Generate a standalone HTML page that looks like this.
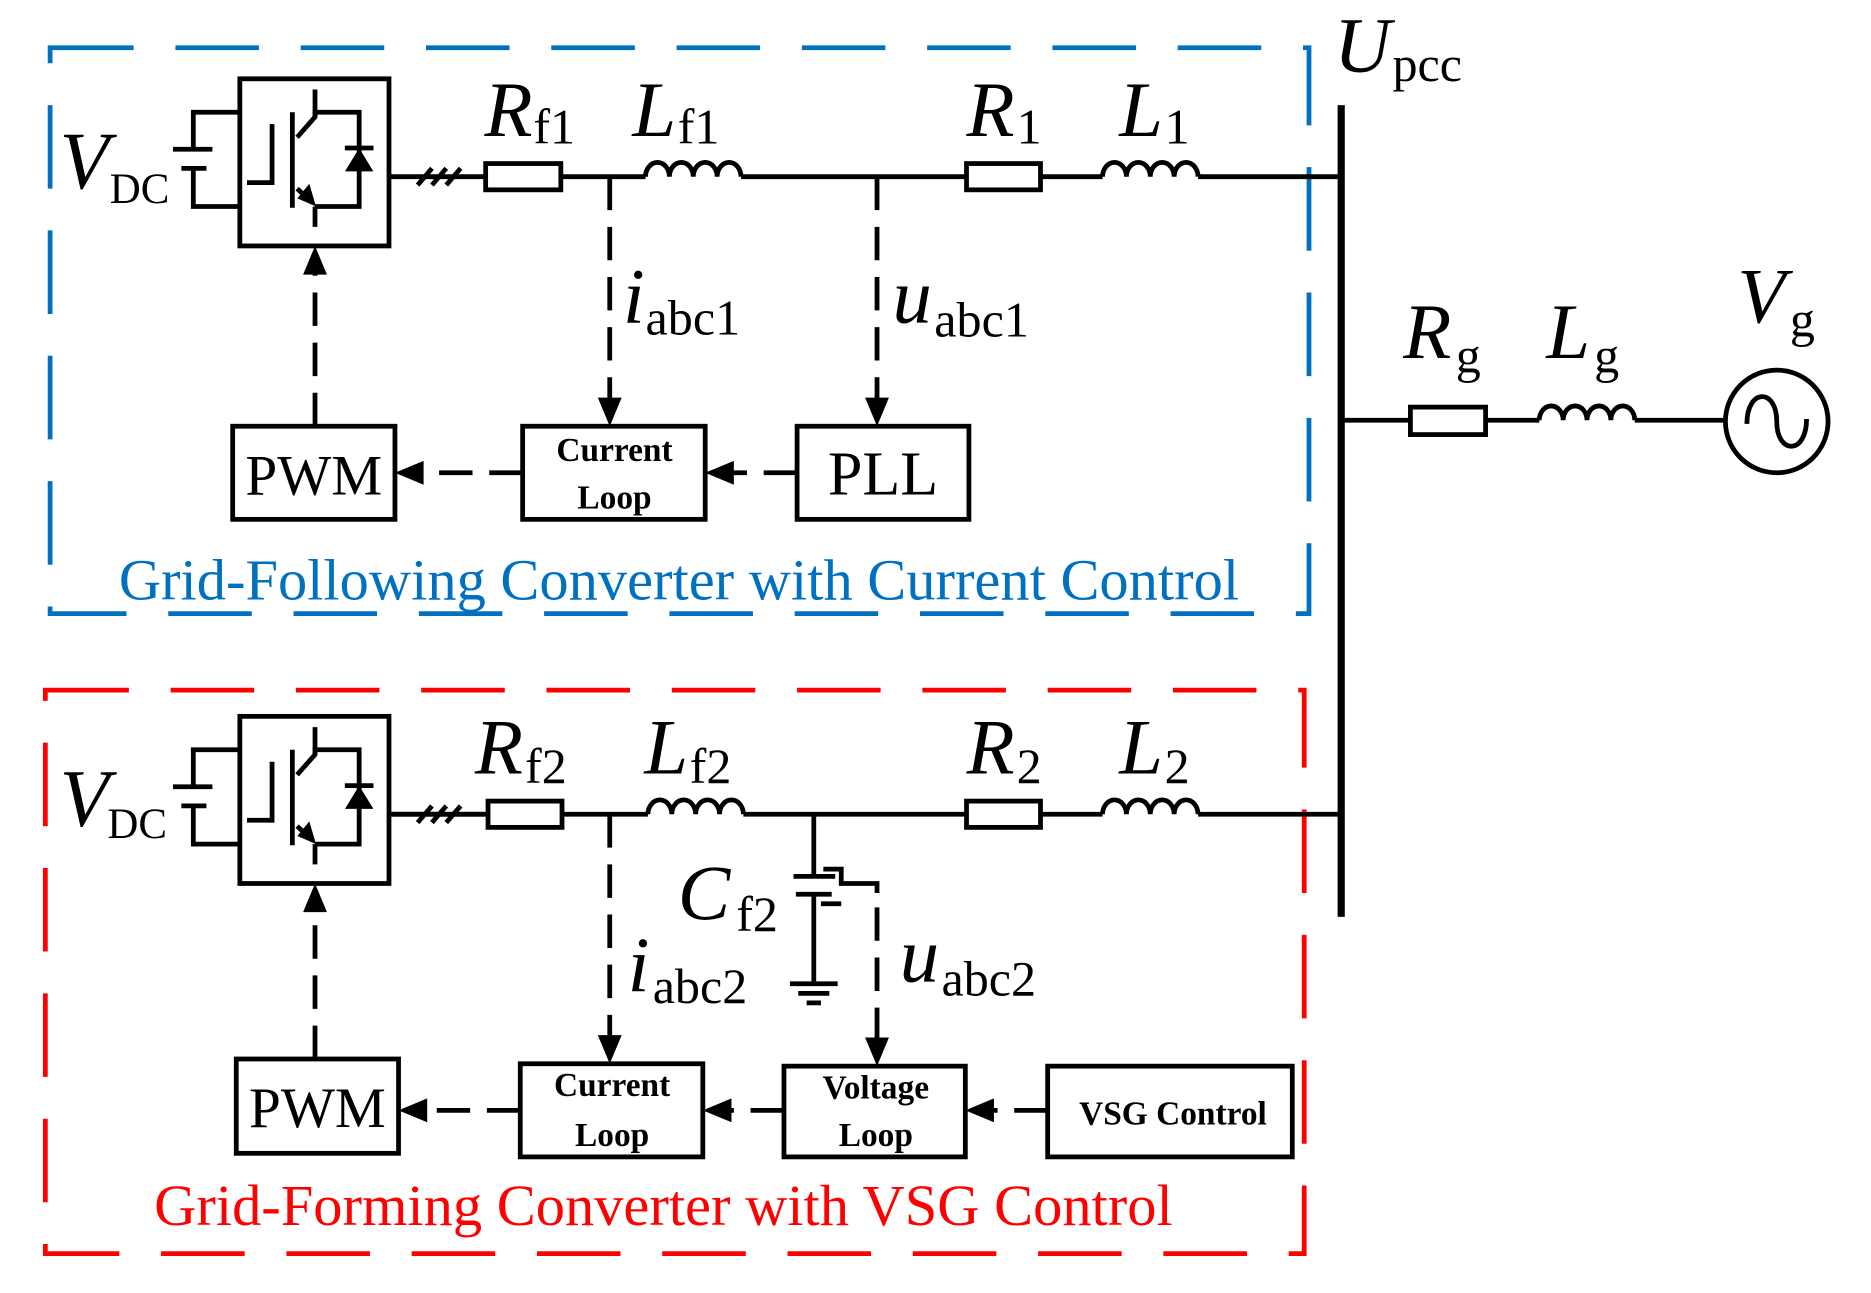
<!DOCTYPE html>
<html><head><meta charset="utf-8"><style>
html,body{margin:0;padding:0;background:#fff;}
svg{display:block;}
text{font-family:"Liberation Serif",serif;fill:#000;}
.it{font-style:italic;}
</style></head><body>
<svg width="1871" height="1293" viewBox="0 0 1568 1083" preserveAspectRatio="none" xmlns="http://www.w3.org/2000/svg">
<defs>
<g id="conv" stroke="#000" stroke-width="4" fill="none">
  <rect x="201" y="66" width="125" height="140"/>
  <polyline points="201,94 162,94 162,125"/>
  <line x1="145" y1="125" x2="178" y2="125"/>
  <line x1="152" y1="141" x2="173" y2="141"/>
  <polyline points="162,141 162,173 201,173"/>
  <polyline points="228,104 228,153 207,153"/>
  <line x1="245" y1="94" x2="245" y2="174"/>
  <polyline points="249,115 264,98 264,75"/>
  <polyline points="264,98 264,94 301,94 301,173 264,173"/>
  <line x1="249" y1="158" x2="262" y2="170"/>
  <line x1="264" y1="173" x2="264" y2="190"/>
  <line x1="289" y1="124" x2="313" y2="124"/>
  <polygon points="301,125 290,143 312,143" fill="#000" stroke-width="1"/>
  <polygon points="264,172 250,166 259,155" fill="#000" stroke-width="1"/>
  <line x1="326" y1="148" x2="407" y2="148"/>
  <line x1="350" y1="155" x2="362" y2="141"/>
  <line x1="362" y1="155" x2="374" y2="141"/>
  <line x1="374" y1="155" x2="386" y2="141"/>
</g>
</defs>

<rect x="42" y="40" width="1055" height="474" fill="none" stroke="#0070c0" stroke-width="4" stroke-dasharray="70,35"/>
<rect x="38" y="578" width="1055" height="472" fill="none" stroke="#ff0000" stroke-width="4" stroke-dasharray="70,35"/>

<use href="#conv"/>
<use href="#conv" transform="translate(0,534)"/>

<g stroke="#000" stroke-width="4" fill="none">
  <rect x="407" y="137" width="63" height="22"/>
  <line x1="470" y1="148" x2="541" y2="148"/>
  <path d="M541,148 a10,12 0 0 1 20,0 a10,12 0 0 1 20,0 a10,12 0 0 1 20,0 a10,12 0 0 1 20,0"/>
  <line x1="621" y1="148" x2="810" y2="148"/>
  <rect x="810" y="137" width="62" height="22"/>
  <line x1="872" y1="148" x2="924" y2="148"/>
  <path d="M924,148 a10,12 0 0 1 20,0 a10,12 0 0 1 20,0 a10,12 0 0 1 20,0 a10,12 0 0 1 20,0"/>
  <line x1="1004" y1="148" x2="1124" y2="148"/>
  <line x1="326" y1="682" x2="409" y2="682"/>
  <rect x="409" y="671" width="62" height="22"/>
  <line x1="471" y1="682" x2="543" y2="682"/>
  <path d="M543,682 a10,12 0 0 1 20,0 a10,12 0 0 1 20,0 a10,12 0 0 1 20,0 a10,12 0 0 1 20,0"/>
  <line x1="623" y1="682" x2="810" y2="682"/>
  <rect x="810" y="671" width="62" height="22"/>
  <line x1="872" y1="682" x2="924" y2="682"/>
  <path d="M924,682 a10,12 0 0 1 20,0 a10,12 0 0 1 20,0 a10,12 0 0 1 20,0 a10,12 0 0 1 20,0"/>
  <line x1="1004" y1="682" x2="1124" y2="682"/>
  <line x1="1124" y1="88" x2="1124" y2="768" stroke-width="6"/>
  <line x1="1124" y1="352" x2="1182" y2="352"/>
  <rect x="1182" y="341" width="63" height="23"/>
  <line x1="1245" y1="352" x2="1290" y2="352"/>
  <path d="M1290,352 a10,12 0 0 1 20,0 a10,12 0 0 1 20,0 a10,12 0 0 1 20,0 a10,12 0 0 1 20,0"/>
  <line x1="1370" y1="352" x2="1446" y2="352"/>
  <circle cx="1489" cy="353" r="43"/>
  <path d="M1464,355 C1464,325 1489,325 1489,353 C1489,381 1514,381 1514,351"/>
  <line x1="682" y1="682" x2="682" y2="734"/>
  <line x1="665" y1="734" x2="700" y2="734"/>
  <line x1="667" y1="749" x2="697" y2="749"/>
  <line x1="682" y1="749" x2="682" y2="822"/>
  <line x1="662" y1="824" x2="702" y2="824"/>
  <line x1="669" y1="832" x2="695" y2="832"/>
  <line x1="676" y1="840" x2="688" y2="840"/>
  <polyline points="690,728 705,728 705,740 735,740 735,748"/>
  <line x1="688" y1="757" x2="705" y2="757"/>
  <rect x="195" y="357" width="136" height="78"/>
  <rect x="438" y="357" width="153" height="78"/>
  <rect x="668" y="357" width="144" height="78"/>
  <rect x="198" y="887" width="136" height="79"/>
  <rect x="436" y="891" width="153" height="78"/>
  <rect x="657" y="893" width="152" height="76"/>
  <rect x="878" y="893" width="205" height="76"/>
</g>
<g stroke="#000" stroke-width="4" fill="none" stroke-dasharray="28,14">
  <line x1="264" y1="357" x2="264" y2="225"/>
  <line x1="264" y1="887" x2="264" y2="759"/>
  <line x1="511" y1="148" x2="511" y2="335"/>
  <line x1="735" y1="148" x2="735" y2="335"/>
  <line x1="668" y1="396" x2="613" y2="396"/>
  <line x1="438" y1="396" x2="353" y2="396"/>
  <line x1="511" y1="682" x2="511" y2="870"/>
  <line x1="735" y1="760" x2="735" y2="872"/>
  <line x1="878" y1="930" x2="831" y2="930"/>
  <line x1="657" y1="930" x2="611" y2="930"/>
  <line x1="436" y1="930" x2="356" y2="930"/>
</g>
<g fill="#000">
  <polygon points="264,206 254,230 274,230"/>
  <polygon points="264,740 254,764 274,764"/>
  <polygon points="511,357 501,333 521,333"/>
  <polygon points="735,357 725,333 745,333"/>
  <polygon points="591,396 615,386 615,406"/>
  <polygon points="331,396 355,386 355,406"/>
  <polygon points="511,891 501,867 521,867"/>
  <polygon points="735,893 725,869 745,869"/>
  <polygon points="809,930 833,920 833,940"/>
  <polygon points="589,930 613,920 613,940"/>
  <polygon points="334,930 358,920 358,940"/>
</g>

<text x="50" y="158" class="it" font-size="68">V</text><text x="92" y="170" font-size="36">DC</text>
<text x="50" y="692" class="it" font-size="68">V</text><text x="90" y="702" font-size="36">DC</text>
<text x="406" y="114" class="it" font-size="66">R</text><text x="447" y="120" font-size="42">f1</text>
<text x="530" y="114" class="it" font-size="66">L</text><text x="568" y="120" font-size="42">f1</text>
<text x="810" y="114" class="it" font-size="66">R</text><text x="852" y="120" font-size="42">1</text>
<text x="938" y="114" class="it" font-size="66">L</text><text x="976" y="120" font-size="42">1</text>
<text x="398" y="648" class="it" font-size="66">R</text><text x="440" y="656" font-size="42">f2</text>
<text x="540" y="648" class="it" font-size="66">L</text><text x="578" y="656" font-size="42">f2</text>
<text x="810" y="648" class="it" font-size="66">R</text><text x="852" y="656" font-size="42">2</text>
<text x="938" y="648" class="it" font-size="66">L</text><text x="976" y="656" font-size="42">2</text>
<text x="1118" y="60" class="it" font-size="66">U</text><text x="1167" y="68" font-size="42">pcc</text>
<text x="1176" y="300" class="it" font-size="66">R</text><text x="1220" y="312" font-size="42">g</text>
<text x="1296" y="300" class="it" font-size="66">L</text><text x="1336" y="312" font-size="42">g</text>
<text x="1456" y="270" class="it" font-size="66">V</text><text x="1500" y="282" font-size="42">g</text>
<text x="522" y="270" class="it" font-size="66">i</text><text x="541" y="280" font-size="42">abc1</text>
<text x="748" y="270" class="it" font-size="66">u</text><text x="783" y="282" font-size="42">abc1</text>
<text x="568" y="770" class="it" font-size="66">C</text><text x="617" y="780" font-size="42">f2</text>
<text x="526" y="830" class="it" font-size="66">i</text><text x="547" y="840" font-size="42">abc2</text>
<text x="754" y="822" class="it" font-size="66">u</text><text x="789" y="834" font-size="42">abc2</text>
<text x="263" y="414" font-size="48" text-anchor="middle">PWM</text>
<text x="266" y="944" font-size="48" text-anchor="middle">PWM</text>
<text x="740" y="414" font-size="52" text-anchor="middle">PLL</text>
<g font-weight="bold" font-size="28" text-anchor="middle">
<text x="515" y="386">Current</text><text x="515" y="426">Loop</text>
<text x="513" y="918">Current</text><text x="513" y="960">Loop</text>
<text x="734" y="920">Voltage</text><text x="734" y="960">Loop</text>
<text x="983" y="942">VSG Control</text>
</g>
<text x="569" y="502" font-size="49" text-anchor="middle" style="fill:#0070c0">Grid-Following Converter with Current Control</text>
<text x="556" y="1026" font-size="49" text-anchor="middle" style="fill:#ff0000">Grid-Forming Converter with VSG Control</text>
</svg>
</body></html>
